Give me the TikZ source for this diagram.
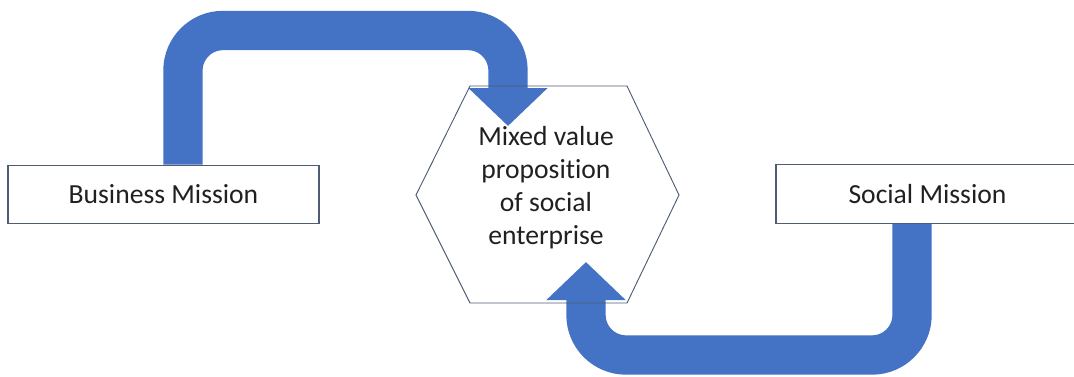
\documentclass[tikz,border=0pt]{standalone}
\usepackage{fontspec}
\setmainfont{Carlito}[Ligatures={NoCommon}]
\usetikzlibrary{arrows.meta,positioning,calc}
\definecolor{arrowblue}{RGB}{68,114,196}
\definecolor{edgegray}{RGB}{78,92,116}
\definecolor{textgray}{RGB}{32,32,32}

\begin{document}
\begin{tikzpicture}[
    x=0.75pt, y=-0.75pt,
    box/.style={rectangle, draw=edgegray, line width=0.9pt, minimum height=44pt, inner sep=0pt, text=textgray, font=\fontsize{20.7}{24.75}\selectfont},
    hextext/.style={align=center, inner sep=0pt, text=textgray, font=\fontsize{20.7}{24.75}\selectfont},
    hexline/.style={draw=edgegray, line width=0.7pt, line join=miter},
    bigarrow/.style={draw=arrowblue, line width=29.5pt, rounded corners=30pt, -{Triangle[width=57.75pt, length=28.5pt]}}
]
    \useasboundingbox (0,0) rectangle (1074,376);
    \clip (0,0) rectangle (1074,376);

    \node[box, minimum width=233.25pt] (business) at (163.5,194.5) {Business Mission};
    \node[box, minimum width=227.25pt] (social) at (927.5,194) {Social Mission};
    \node[hextext] (mixed) at (546,188) {Mixed value\\proposition\\of social\\enterprise};

    % bent arrows into the hexagon
    \coordinate (topA) at (508,30.5);
    \coordinate (tipA) at (508,126);
    \coordinate (botB) at (586,355);
    \coordinate (tipB) at (586,262);
    \draw[bigarrow] ([xshift=14.6pt]business.north) |- (topA) -- (tipA);
    \draw[bigarrow] ([xshift=-11.6pt]social.south) |- (botB) -- (tipB);

    % hexagon
    \draw[hexline] (416,195) -- (470,86) -- (627,86) -- (679,195) -- (627,303) -- (470,303) -- cycle;
\end{tikzpicture}
\end{document}
